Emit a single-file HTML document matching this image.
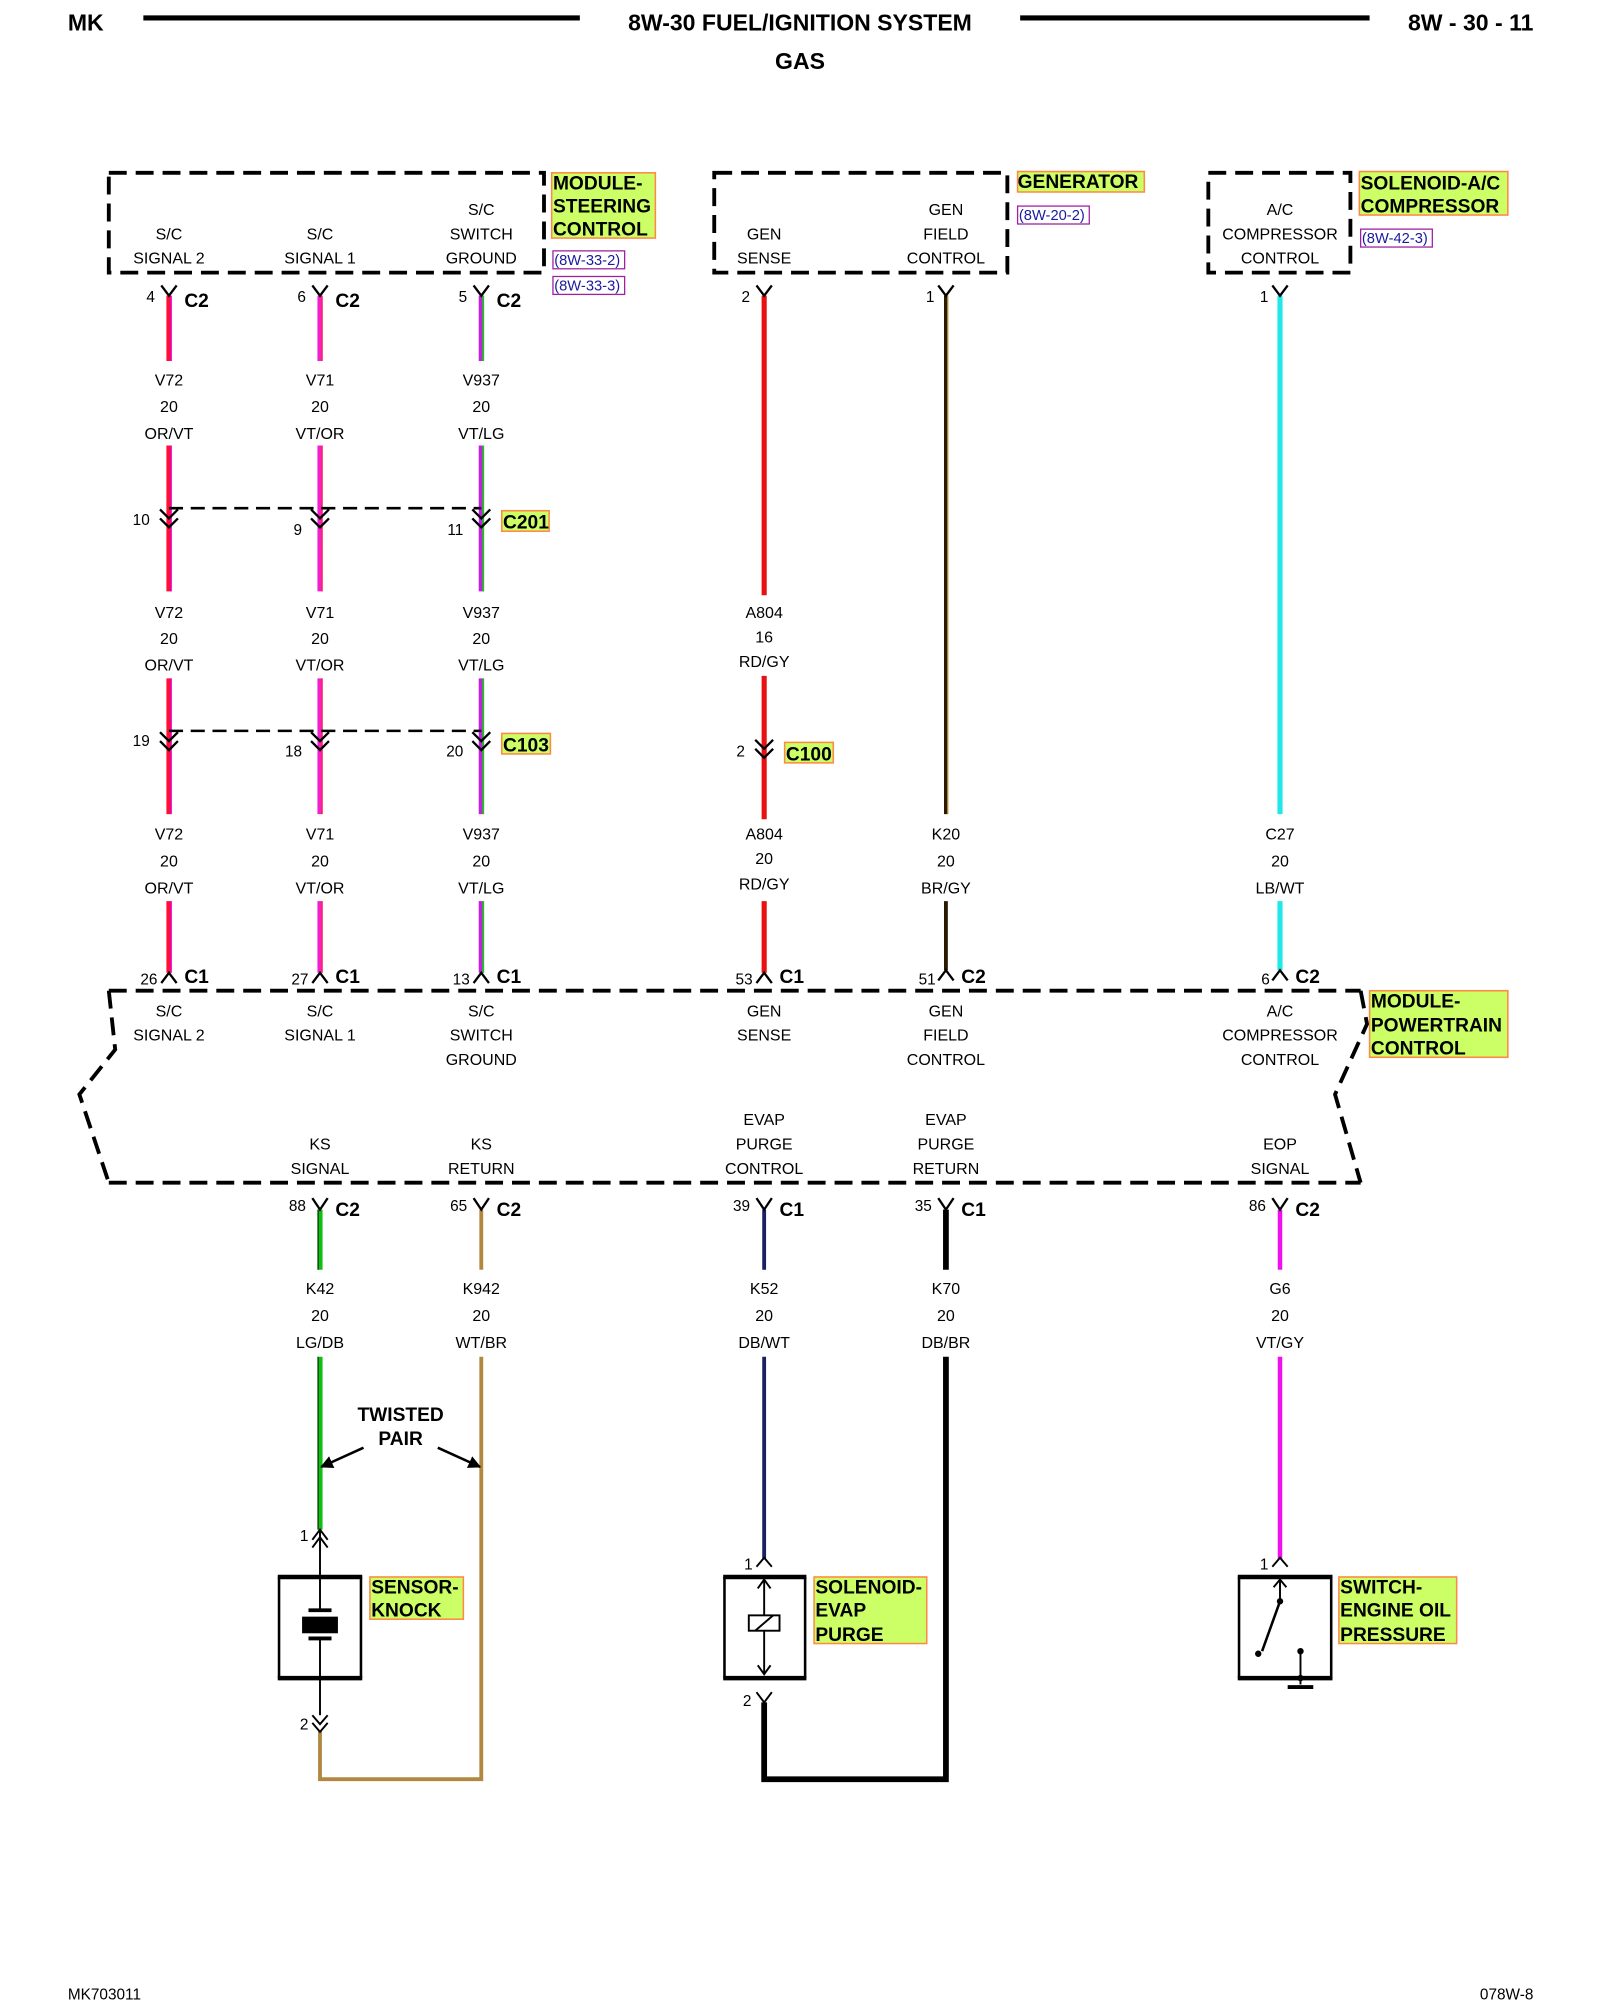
<!DOCTYPE html>
<html><head><meta charset="utf-8"><style>
html,body{margin:0;padding:0;background:#fff;width:1600px;height:2000px;overflow:hidden}
svg{display:block}
text{font-family:"Liberation Sans",Arial,sans-serif;fill:#000}
.t{font-size:12.5px;text-anchor:middle}
.n{font-size:12px;text-anchor:end}
.c{font-size:15px;font-weight:bold}
.lb{font-size:15px;font-weight:bold}
.ref{font-size:11.5px;fill:#1a1aa0}
</style></head><body>
<svg width="1600" height="2000" viewBox="0 0 1250 1562.5" xmlns="http://www.w3.org/2000/svg">
<defs>
<marker id="ah" markerWidth="10" markerHeight="10" refX="9" refY="5" orient="auto" markerUnits="userSpaceOnUse"><path d="M0,0 L10,5 L0,10 z" fill="#000"/></marker>
</defs>
<!-- header -->
<text x="53" y="24" style="font-size:18px;font-weight:bold">MK</text>
<line x1="112" y1="14" x2="453" y2="14" stroke="#000" stroke-width="4"/>
<text x="625" y="24" style="font-size:18px;font-weight:bold;text-anchor:middle">8W-30 FUEL/IGNITION SYSTEM</text>
<line x1="797" y1="14" x2="1070" y2="14" stroke="#000" stroke-width="4"/>
<text x="1198" y="24" style="font-size:18px;font-weight:bold;text-anchor:end">8W - 30 - 11</text>
<text x="625" y="54" style="font-size:18px;font-weight:bold;text-anchor:middle">GAS</text>

<!-- top boxes -->
<g fill="none" stroke="#000" stroke-width="3" stroke-dasharray="14,7">
<rect x="85" y="135" width="340" height="78"/>
<rect x="558" y="135" width="229" height="78"/>
<rect x="944" y="135" width="111" height="78"/>
</g>
<g class="t">
<text class="t" x="132" y="187">S/C</text><text class="t" x="132" y="206">SIGNAL 2</text>
<text class="t" x="250" y="187">S/C</text><text class="t" x="250" y="206">SIGNAL 1</text>
<text class="t" x="376" y="168">S/C</text><text class="t" x="376" y="187">SWITCH</text><text class="t" x="376" y="206">GROUND</text>
<text class="t" x="597" y="187">GEN</text><text class="t" x="597" y="206">SENSE</text>
<text class="t" x="739" y="168">GEN</text><text class="t" x="739" y="187">FIELD</text><text class="t" x="739" y="206">CONTROL</text>
<text class="t" x="1000" y="168">A/C</text><text class="t" x="1000" y="187">COMPRESSOR</text><text class="t" x="1000" y="206">CONTROL</text>
</g>
<!-- yellow labels -->
<g fill="#ccff66" stroke="#ff8844" stroke-width="1.2">
<rect x="431" y="135" width="81" height="51"/>
<rect x="795" y="134" width="99" height="16"/>
<rect x="1062" y="134" width="116" height="34"/>
<rect x="1070" y="774" width="108" height="52"/>
<rect x="392" y="399" width="37" height="16"/>
<rect x="392" y="573" width="38" height="16"/>
<rect x="613" y="580" width="38" height="16"/>
<rect x="289" y="1232" width="73" height="33"/>
<rect x="636" y="1232" width="88" height="52"/>
<rect x="1046" y="1232" width="92" height="52"/>
</g>
<g class="lb">
<text class="lb" x="432" y="148">MODULE-</text><text class="lb" x="432" y="166">STEERING</text><text class="lb" x="432" y="184">CONTROL</text>
<text class="lb" x="795" y="147">GENERATOR</text>
<text class="lb" x="1063" y="148">SOLENOID-A/C</text><text class="lb" x="1063" y="166">COMPRESSOR</text>
<text class="lb" x="1071" y="787">MODULE-</text><text class="lb" x="1071" y="806">POWERTRAIN</text><text class="lb" x="1071" y="824">CONTROL</text>
<text class="lb" x="393" y="413">C201</text><text class="lb" x="393" y="587">C103</text><text class="lb" x="614" y="594">C100</text>
<text class="lb" x="290" y="1245">SENSOR-</text><text class="lb" x="290" y="1263">KNOCK</text>
<text class="lb" x="637" y="1245">SOLENOID-</text><text class="lb" x="637" y="1263">EVAP</text><text class="lb" x="637" y="1282">PURGE</text>
<text class="lb" x="1047" y="1245">SWITCH-</text><text class="lb" x="1047" y="1263">ENGINE OIL</text><text class="lb" x="1047" y="1282">PRESSURE</text>
</g>
<g fill="none" stroke="#a020a0" stroke-width="1">
<rect x="432" y="196" width="56" height="14"/><rect x="432" y="216" width="56" height="14"/>
<rect x="795" y="161" width="56" height="14"/><rect x="1063" y="179" width="56" height="14"/>
</g>
<text class="ref" x="433" y="207">(8W-33-2)</text><text class="ref" x="433" y="227">(8W-33-3)</text>
<text class="ref" x="796" y="172">(8W-20-2)</text><text class="ref" x="1064" y="190">(8W-42-3)</text>

<!-- wires -->
<g stroke-width="4" fill="none">
<!-- V72 -->
<g stroke="#ff1030"><line x1="132" y1="231" x2="132" y2="282"/><line x1="132" y1="348" x2="132" y2="462"/><line x1="132" y1="530" x2="132" y2="636"/><line x1="132" y1="704" x2="132" y2="760"/></g>
<g stroke="#ee00aa" stroke-width="1.5"><line x1="133.5" y1="231" x2="133.5" y2="282"/><line x1="133.5" y1="348" x2="133.5" y2="462"/><line x1="133.5" y1="530" x2="133.5" y2="636"/><line x1="133.5" y1="704" x2="133.5" y2="760"/></g>
<!-- V71 -->
<g stroke="#f020d0"><line x1="250" y1="231" x2="250" y2="282"/><line x1="250" y1="348" x2="250" y2="462"/><line x1="250" y1="530" x2="250" y2="636"/><line x1="250" y1="704" x2="250" y2="760"/></g>
<g stroke="#ff2060" stroke-width="1.3"><line x1="251.5" y1="231" x2="251.5" y2="282"/><line x1="251.5" y1="348" x2="251.5" y2="462"/><line x1="251.5" y1="530" x2="251.5" y2="636"/><line x1="251.5" y1="704" x2="251.5" y2="760"/></g>
<!-- V937 -->
<g stroke="#c020e0"><line x1="376" y1="231" x2="376" y2="282"/><line x1="376" y1="348" x2="376" y2="462"/><line x1="376" y1="530" x2="376" y2="636"/><line x1="376" y1="704" x2="376" y2="760"/></g>
<g stroke="#20c020" stroke-width="1.5"><line x1="377.5" y1="231" x2="377.5" y2="282"/><line x1="377.5" y1="348" x2="377.5" y2="462"/><line x1="377.5" y1="530" x2="377.5" y2="636"/><line x1="377.5" y1="704" x2="377.5" y2="760"/></g>
<!-- A804 -->
<g stroke="#e81010"><line x1="597" y1="231" x2="597" y2="465"/><line x1="597" y1="528" x2="597" y2="640"/><line x1="597" y1="704" x2="597" y2="760"/></g>
<!-- K20 -->
<g stroke="#2a1a00" stroke-width="3"><line x1="739" y1="231" x2="739" y2="636"/><line x1="739" y1="704" x2="739" y2="758"/></g>
<g stroke="#c8a040" stroke-width="1"><line x1="740.5" y1="231" x2="740.5" y2="636"/></g>
<!-- C27 -->
<g stroke="#20e8e8"><line x1="1000" y1="231" x2="1000" y2="636"/><line x1="1000" y1="704" x2="1000" y2="758"/></g>
<!-- bottom -->
<g stroke="#10c010"><line x1="250" y1="945" x2="250" y2="992"/><line x1="250" y1="1060" x2="250" y2="1195"/></g>
<g stroke="#103010" stroke-width="1"><line x1="248.5" y1="945" x2="248.5" y2="992"/><line x1="248.5" y1="1060" x2="248.5" y2="1195"/></g>
<g stroke="#b08840" stroke-width="3"><line x1="376" y1="945" x2="376" y2="992"/><polyline points="376,1060 376,1390 250,1390 250,1352"/></g>
<g stroke="#1a2060" stroke-width="3"><line x1="597" y1="945" x2="597" y2="992"/><line x1="597" y1="1060" x2="597" y2="1218"/></g>
<g stroke="#000" stroke-width="4.5"><line x1="739" y1="945" x2="739" y2="992"/><polyline points="739,1060 739,1390 597,1390 597,1330"/></g>
<g stroke="#ee10ee" stroke-width="3.5"><line x1="1000" y1="945" x2="1000" y2="992"/><line x1="1000" y1="1060" x2="1000" y2="1218"/></g>
</g>

<!-- top Y pins -->
<g stroke="#000" stroke-width="1.8" fill="none">
<polyline points="126,223 132,231 138,223"/><polyline points="244,223 250,231 256,223"/><polyline points="370,223 376,231 382,223"/>
<polyline points="591,223 597,231 603,223"/><polyline points="733,223 739,231 745,223"/><polyline points="994,223 1000,231 1006,223"/>
<!-- C201 chevrons -->
<polyline points="125,398 132,405 139,398"/><polyline points="125,405 132,412 139,405"/>
<polyline points="243,398 250,405 257,398"/><polyline points="243,405 250,412 257,405"/>
<polyline points="369,398 376,405 383,398"/><polyline points="369,405 376,412 383,405"/>
<polyline points="125,572 132,579 139,572"/><polyline points="125,579 132,586 139,579"/>
<polyline points="243,572 250,579 257,572"/><polyline points="243,579 250,586 257,579"/>
<polyline points="369,572 376,579 383,572"/><polyline points="369,579 376,586 383,579"/>
<polyline points="590,578 597,585 604,578"/><polyline points="590,585 597,592 604,585"/>
<!-- C1 carets -->
<polyline points="126,768 132,760 138,768"/><polyline points="244,768 250,760 256,768"/><polyline points="370,768 376,760 382,768"/>
<polyline points="591,768 597,760 603,768"/><polyline points="733,766 739,758 745,766"/><polyline points="994,766 1000,758 1006,766"/>
<!-- bottom Y -->
<polyline points="244,936 250,945 256,936"/><polyline points="370,936 376,945 382,936"/><polyline points="591,936 597,945 603,936"/>
<polyline points="733,936 739,945 745,936"/><polyline points="994,936 1000,945 1006,936"/>
</g>
<g stroke="#000" stroke-width="2" fill="none" stroke-dasharray="11,6">
<line x1="132" y1="397" x2="376" y2="397"/><line x1="132" y1="571" x2="376" y2="571"/>
</g>
<!-- wire labels -->
<g>
<text class="t" x="132" y="301">V72</text><text class="t" x="132" y="322">20</text><text class="t" x="132" y="343">OR/VT</text>
<text class="t" x="250" y="301">V71</text><text class="t" x="250" y="322">20</text><text class="t" x="250" y="343">VT/OR</text>
<text class="t" x="376" y="301">V937</text><text class="t" x="376" y="322">20</text><text class="t" x="376" y="343">VT/LG</text>
<text class="t" x="132" y="483">V72</text><text class="t" x="132" y="503">20</text><text class="t" x="132" y="524">OR/VT</text>
<text class="t" x="250" y="483">V71</text><text class="t" x="250" y="503">20</text><text class="t" x="250" y="524">VT/OR</text>
<text class="t" x="376" y="483">V937</text><text class="t" x="376" y="503">20</text><text class="t" x="376" y="524">VT/LG</text>
<text class="t" x="597" y="483">A804</text><text class="t" x="597" y="502">16</text><text class="t" x="597" y="521">RD/GY</text>
<text class="t" x="132" y="656">V72</text><text class="t" x="132" y="677">20</text><text class="t" x="132" y="698">OR/VT</text>
<text class="t" x="250" y="656">V71</text><text class="t" x="250" y="677">20</text><text class="t" x="250" y="698">VT/OR</text>
<text class="t" x="376" y="656">V937</text><text class="t" x="376" y="677">20</text><text class="t" x="376" y="698">VT/LG</text>
<text class="t" x="597" y="656">A804</text><text class="t" x="597" y="675">20</text><text class="t" x="597" y="695">RD/GY</text>
<text class="t" x="739" y="656">K20</text><text class="t" x="739" y="677">20</text><text class="t" x="739" y="698">BR/GY</text>
<text class="t" x="1000" y="656">C27</text><text class="t" x="1000" y="677">20</text><text class="t" x="1000" y="698">LB/WT</text>
<text class="t" x="250" y="1011">K42</text><text class="t" x="250" y="1032">20</text><text class="t" x="250" y="1053">LG/DB</text>
<text class="t" x="376" y="1011">K942</text><text class="t" x="376" y="1032">20</text><text class="t" x="376" y="1053">WT/BR</text>
<text class="t" x="597" y="1011">K52</text><text class="t" x="597" y="1032">20</text><text class="t" x="597" y="1053">DB/WT</text>
<text class="t" x="739" y="1011">K70</text><text class="t" x="739" y="1032">20</text><text class="t" x="739" y="1053">DB/BR</text>
<text class="t" x="1000" y="1011">G6</text><text class="t" x="1000" y="1032">20</text><text class="t" x="1000" y="1053">VT/GY</text>
</g>
<!-- pin numbers and connector names -->
<g>
<text class="n" x="121" y="236">4</text><text class="c" x="144" y="240">C2</text>
<text class="n" x="239" y="236">6</text><text class="c" x="262" y="240">C2</text>
<text class="n" x="365" y="236">5</text><text class="c" x="388" y="240">C2</text>
<text class="n" x="586" y="236">2</text><text class="n" x="730" y="236">1</text><text class="n" x="991" y="236">1</text>
<text class="n" x="117" y="410">10</text><text class="n" x="236" y="418">9</text><text class="n" x="362" y="418">11</text>
<text class="n" x="117" y="583">19</text><text class="n" x="236" y="591">18</text><text class="n" x="362" y="591">20</text>
<text class="n" x="582" y="591">2</text>
<text class="n" x="123" y="769">26</text><text class="c" x="144" y="768">C1</text>
<text class="n" x="241" y="769">27</text><text class="c" x="262" y="768">C1</text>
<text class="n" x="367" y="769">13</text><text class="c" x="388" y="768">C1</text>
<text class="n" x="588" y="769">53</text><text class="c" x="609" y="768">C1</text>
<text class="n" x="731" y="769">51</text><text class="c" x="751" y="768">C2</text>
<text class="n" x="992" y="769">6</text><text class="c" x="1012" y="768">C2</text>
<text class="n" x="239" y="946">88</text><text class="c" x="262" y="950">C2</text>
<text class="n" x="365" y="946">65</text><text class="c" x="388" y="950">C2</text>
<text class="n" x="586" y="946">39</text><text class="c" x="609" y="950">C1</text>
<text class="n" x="728" y="946">35</text><text class="c" x="751" y="950">C1</text>
<text class="n" x="989" y="946">86</text><text class="c" x="1012" y="950">C2</text>
</g>

<!-- PCM box -->
<g fill="none" stroke="#000" stroke-width="3" stroke-dasharray="14,7">
<line x1="85" y1="774" x2="1063" y2="774"/>
<line x1="85" y1="924" x2="1063" y2="924"/>
<polyline points="85,774 90,820 62,855 85,924"/>
<polyline points="1063,774 1068,800 1043,855 1063,924"/>
</g>
<g>
<text class="t" x="132" y="794">S/C</text><text class="t" x="132" y="813">SIGNAL 2</text>
<text class="t" x="250" y="794">S/C</text><text class="t" x="250" y="813">SIGNAL 1</text>
<text class="t" x="376" y="794">S/C</text><text class="t" x="376" y="813">SWITCH</text><text class="t" x="376" y="832">GROUND</text>
<text class="t" x="597" y="794">GEN</text><text class="t" x="597" y="813">SENSE</text>
<text class="t" x="739" y="794">GEN</text><text class="t" x="739" y="813">FIELD</text><text class="t" x="739" y="832">CONTROL</text>
<text class="t" x="1000" y="794">A/C</text><text class="t" x="1000" y="813">COMPRESSOR</text><text class="t" x="1000" y="832">CONTROL</text>
<text class="t" x="597" y="879">EVAP</text><text class="t" x="597" y="898">PURGE</text><text class="t" x="597" y="917">CONTROL</text>
<text class="t" x="739" y="879">EVAP</text><text class="t" x="739" y="898">PURGE</text><text class="t" x="739" y="917">RETURN</text>
<text class="t" x="250" y="898">KS</text><text class="t" x="250" y="917">SIGNAL</text>
<text class="t" x="376" y="898">KS</text><text class="t" x="376" y="917">RETURN</text>
<text class="t" x="1000" y="898">EOP</text><text class="t" x="1000" y="917">SIGNAL</text>
</g>

<!-- twisted pair -->
<text x="313" y="1110" style="font-size:15px;font-weight:bold;text-anchor:middle">TWISTED</text>
<text x="313" y="1129" style="font-size:15px;font-weight:bold;text-anchor:middle">PAIR</text>
<line x1="284" y1="1131" x2="251" y2="1146" stroke="#000" stroke-width="2" marker-end="url(#ah)"/>
<line x1="342" y1="1131" x2="375" y2="1146" stroke="#000" stroke-width="2" marker-end="url(#ah)"/>

<!-- knock sensor -->
<g stroke="#000" fill="none" stroke-width="1.5">
<polyline points="244,1203 250,1195 256,1203"/><polyline points="244,1209 250,1201 256,1209"/>
<line x1="250" y1="1195" x2="250" y2="1258"/><line x1="250" y1="1280" x2="250" y2="1340"/>
<polyline points="244,1340 250,1347 256,1340"/><polyline points="244,1346 250,1353 256,1346"/>
<line x1="218" y1="1232" x2="218" y2="1311" stroke-width="2"/><line x1="282" y1="1232" x2="282" y2="1311" stroke-width="2"/>
<line x1="217" y1="1232" x2="283" y2="1232" stroke-width="3.5"/><line x1="217" y1="1311" x2="283" y2="1311" stroke-width="3.5"/>
<line x1="241" y1="1258" x2="259" y2="1258" stroke-width="3"/><line x1="241" y1="1280" x2="259" y2="1280" stroke-width="3"/>
</g>
<rect x="236" y="1263" width="28" height="13" fill="#000"/>
<text class="n" x="241" y="1204">1</text><text class="n" x="241" y="1351">2</text>

<!-- solenoid -->
<g stroke="#000" fill="none" stroke-width="1.5">
<polyline points="591,1224 597,1217 603,1224"/>
<line x1="566" y1="1232" x2="566" y2="1311" stroke-width="2"/><line x1="629" y1="1232" x2="629" y2="1311" stroke-width="2"/>
<line x1="565" y1="1232" x2="630" y2="1232" stroke-width="3.5"/><line x1="565" y1="1311" x2="630" y2="1311" stroke-width="3.5"/>
<line x1="597" y1="1234" x2="597" y2="1308"/>
<polyline points="592,1241 597,1234 602,1241"/><polyline points="592,1301 597,1308 602,1301"/>
<rect x="585" y="1262" width="24" height="12" fill="#fff"/><line x1="590" y1="1274" x2="604" y2="1262"/>
<polyline points="591,1322 597,1330 603,1322"/>
</g>
<text class="n" x="588" y="1226">1</text><text class="n" x="587" y="1333">2</text>

<!-- oil switch -->
<g stroke="#000" fill="none" stroke-width="1.5">
<polyline points="994,1224 1000,1217 1006,1224"/>
<line x1="968" y1="1232" x2="968" y2="1311" stroke-width="2"/><line x1="1040" y1="1232" x2="1040" y2="1311" stroke-width="2"/>
<line x1="967" y1="1232" x2="1041" y2="1232" stroke-width="3.5"/><line x1="967" y1="1311" x2="1041" y2="1311" stroke-width="3.5"/>
<line x1="1000" y1="1234" x2="1000" y2="1251"/><polyline points="995,1240 1000,1234 1005,1240"/>
<line x1="1000" y1="1251" x2="986" y2="1290" stroke-width="2"/>
<line x1="1016" y1="1290" x2="1016" y2="1316"/>
<line x1="1006" y1="1318" x2="1026" y2="1318" stroke-width="3"/>
</g>
<circle cx="1000" cy="1251" r="2.5"/><circle cx="983" cy="1292" r="2.5"/><circle cx="1016" cy="1290" r="2.5"/><circle cx="1016" cy="1311" r="2.5"/>
<text class="n" x="991" y="1226">1</text>

<!-- footer -->
<text x="53" y="1562" style="font-size:12px">MK703011</text>
<text x="1198" y="1562" style="font-size:12px;text-anchor:end">078W-8</text>
</svg>
</body></html>
